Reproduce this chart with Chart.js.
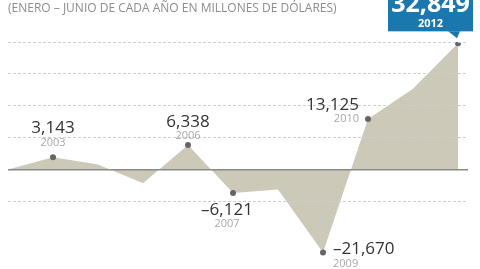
<!DOCTYPE html>
<html>
<head>
<meta charset="utf-8">
<script src="https://cdn.jsdelivr.net/npm/chart.js@4"></script>
<style>
  html, body { margin: 0; padding: 0; background: #fff; }
  #wrap { width: 480px; height: 269px; position: relative; }
</style>
</head>
<body>
<div id="wrap"><canvas id="chart"></canvas></div>
<script>
// Datos (enero-junio, millones de dólares)
const anios = [2002, 2003, 2004, 2005, 2006, 2007, 2008, 2009, 2010, 2011, 2012];
const valores = [0, 3143, 1300, -3600, 6338, -6121, -5200, -21670, 13125, 21000, 32849];
const aniosEtiqueta = [2003, 2006, 2007, 2009, 2010];
const anioDestacado = 2012;
const titulo = "(ENERO – JUNIO DE CADA AÑO EN MILLONES DE DÓLARES)";

// colocación de las etiquetas (estilo, no datos)
const posEtiqueta = {
  2003: { align: "center", dx: 0, dy: -29 },
  2006: { align: "center", dx: 0, dy: -23 },
  2007: { align: "center", dx: -6, dy: 17 },
  2009: { align: "left", dx: 10, dy: -3 },
  2010: { align: "right", dx: -9, dy: -14 }
};

const fmt = v => v.toLocaleString("en-US").replace("-", "–");

const etiquetas = {
  id: "etiquetas",
  afterDraw(chart) {
    const ctx = chart.ctx;
    const meta = chart.getDatasetMeta(0);
    ctx.save();

    // titulo
    ctx.fillStyle = "#8c8c8c";
    ctx.font = "12px 'Open Sans'";
    ctx.textAlign = "left";
    ctx.textBaseline = "middle";
    ctx.fillText(titulo, 8, 9);

    // etiquetas de valor y año
    aniosEtiqueta.forEach(a => {
      const i = anios.indexOf(a);
      const p = meta.data[i];
      const pos = posEtiqueta[a];
      ctx.textAlign = pos.align;
      ctx.textBaseline = "middle";
      ctx.fillStyle = "#333";
      ctx.font = "17px 'Open Sans'";
      ctx.fillText(fmt(valores[i]), p.x + pos.dx, p.y + pos.dy);
      ctx.fillStyle = "#a8a8a8";
      ctx.font = "11px 'Open Sans'";
      ctx.fillText(String(a), p.x + pos.dx, p.y + pos.dy + 14);
    });

    // recuadro azul 2012
    const i = anios.indexOf(anioDestacado);
    const p = meta.data[i];
    const bx0 = p.x - 70, bx1 = p.x + 15, by1 = p.y - 12;
    ctx.fillStyle = "#1a78ae";
    ctx.fillRect(bx0, -5, bx1 - bx0, by1 + 5);
    ctx.beginPath();
    ctx.moveTo(p.x - 10, by1);
    ctx.lineTo(p.x + 2, by1);
    ctx.lineTo(p.x - 1, p.y - 5);
    ctx.closePath();
    ctx.fill();
    ctx.fillStyle = "#fff";
    ctx.textAlign = "center";
    ctx.textBaseline = "alphabetic";
    ctx.font = "bold 25px 'Open Sans'";
    ctx.fillText(fmt(valores[i]), (bx0 + bx1) / 2, 12);
    ctx.font = "bold 11px 'Open Sans'";
    ctx.textBaseline = "middle";
    ctx.fillText(String(anioDestacado), (bx0 + bx1) / 2, 24);

    ctx.restore();
  }
};

const radios = anios.map(a => (aniosEtiqueta.includes(a) || a === anioDestacado) ? 3 : 0);

new Chart(document.getElementById("chart"), {
  type: "line",
  data: {
    datasets: [{
      data: anios.map((a, i) => ({ x: a, y: valores[i] })),
      fill: "origin",
      backgroundColor: "#cdc9b8",
      borderWidth: 0,
      borderColor: "rgba(0,0,0,0)",
      pointRadius: radios,
      pointBackgroundColor: "#666",
      pointBorderWidth: 0,
      tension: 0
    }]
  },
  options: {
    responsive: true,
    maintainAspectRatio: false,
    animation: false,
    layout: { padding: { top: 42, left: 8, right: 12, bottom: 3 } },
    plugins: { legend: { display: false }, tooltip: { enabled: false } },
    scales: {
      x: {
        type: "linear",
        display: false,
        min: 2002,
        max: 2012.222
      },
      y: {
        min: -24900,
        max: 33200,
        ticks: { display: false, stepSize: 8300 },
        grid: {
          z: 1,
          drawTicks: false,
          color: c => c.tick.value === 0 ? "#8a8a8a" : (c.tick.value < -8300 ? "rgba(0,0,0,0)" : "#cfcfcf"),
          lineWidth: c => c.tick.value === 0 ? 1.5 : 1
        },
        border: {
          display: false,
          dash: c => (c.tick && c.tick.value === 0) ? [] : [3, 2]
        }
      }
    }
  },
  plugins: [etiquetas]
});
</script>
</body>
</html>
